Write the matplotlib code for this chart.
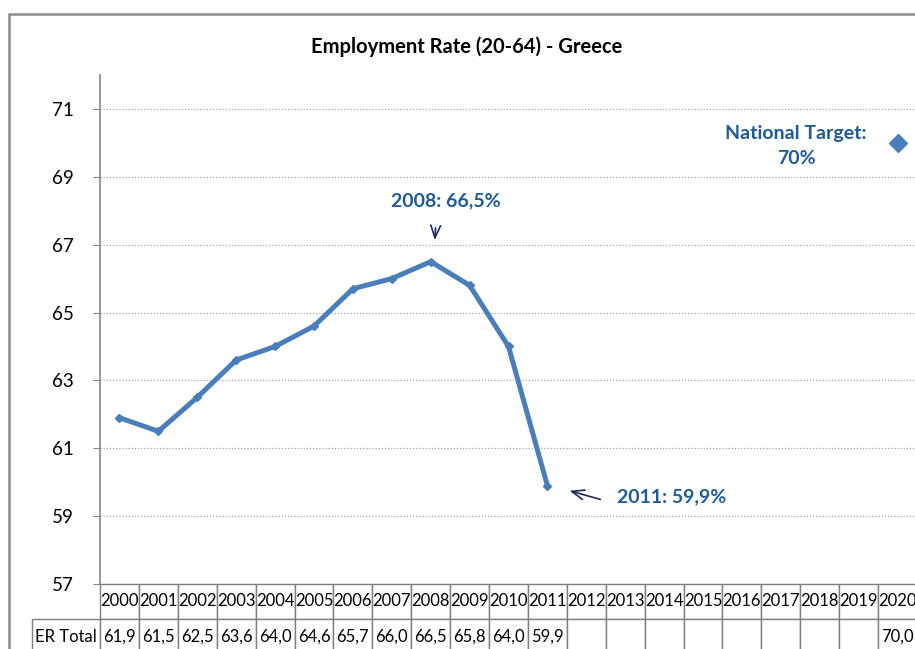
import matplotlib
matplotlib.use("Agg")
import matplotlib.pyplot as plt
import matplotlib.patches as patches
import numpy as np

plt.rcParams['font.family'] = ['Lato', 'DejaVu Sans']

# Employment rate 20-64, Greece
years = [str(y) for y in range(2000, 2021)]
er_years = years[:12]
er_total = [61.9, 61.5, 62.5, 63.6, 64.0, 64.6, 65.7, 66.0, 66.5, 65.8, 64.0, 59.9]
target_year = "2020"
target_value = 70.0
yticks = [57, 59, 61, 63, 65, 67, 69, 71]

line_col = '#4A7EBB'
note_col = '#1F5A96'
arrow_col = '#1F2A5C'

W, H = 915, 649
fig = plt.figure(figsize=(W / 100, H / 100), dpi=100)

# axes in pixel terms: x 100..917, y 75..584
ax_l, ax_r, ax_t, ax_b = 100, 917, 75, 584
ax = fig.add_axes([ax_l / W, 1 - ax_b / H, (ax_r - ax_l) / W, (ax_b - ax_t) / H])

x = np.arange(len(er_total))
ax.plot(x, er_total, color=line_col, lw=3.6, marker='D', ms=4.5, zorder=3)
ax.plot([years.index(target_year)], [target_value], color=line_col,
        marker='D', ms=9, ls='none', zorder=3)

ax.set_xlim(-0.5, len(years) - 0.5)
ax.set_ylim(57, 72)
ax.set_yticks(yticks)
ax.set_yticklabels([str(t) for t in yticks], fontsize=13.5)
ax.set_xticks([])
for t in yticks:
    ax.axhline(t, color='#A6A6A6', lw=0.9, ls=(0, (1, 1.5)), zorder=1)
for s in ['top', 'right', 'bottom']:
    ax.spines[s].set_visible(False)
ax.spines['left'].set_color('#868686')
ax.spines['left'].set_linewidth(1.2)
ax.tick_params(axis='y', length=5, color='#868686', pad=14)

# annotations
arrow_style = dict(arrowstyle='->,head_length=0.9,head_width=0.35', color=arrow_col, lw=1.2)
i08 = er_years.index("2008")
ax.annotate('', xy=(i08 + 0.1, er_total[i08] + 0.55), xytext=(i08 + 0.13, er_total[i08] + 1.08),
            arrowprops=arrow_style)
ax.text(i08 + 0.4, er_total[i08] + 1.8, "2008: 66,5%", color=note_col, fontsize=14,
        fontweight='bold', ha='center', va='center')

i11 = er_years.index("2011")
ax.annotate('', xy=(i11 + 0.5, er_total[i11] - 0.13), xytext=(i11 + 1.43, er_total[i11] - 0.43),
            arrowprops=arrow_style)
ax.text(i11 + 1.78, er_total[i11] - 0.34, "2011: 59,9%", color=note_col, fontsize=14,
        fontweight='bold', ha='left', va='center')

ax.text(17.39, target_value - 0.1, "National Target:\n70%", color=note_col, fontsize=14,
        fontweight='bold', ha='center', va='center', linespacing=1.6)

# data table under the axis
row_vals = [f"{v:.1f}".replace('.', ',') for v in er_total]
row_vals += [""] * (len(years) - len(er_total) - 1) + [f"{target_value:.1f}".replace('.', ',')]
cell_text = [[""] + years, ["ER Total"] + row_vals]
ax_w = ax_r - ax_l
ax_h = ax_b - ax_t
lab_w = 68
col_w = [lab_w / ax_w] + [1 / len(years)] * len(years)
tbl = ax.table(cellText=cell_text, colWidths=col_w, cellLoc='center',
               bbox=[-lab_w / ax_w, -70 / ax_h, 1 + lab_w / ax_w, 70 / ax_h])
tbl.auto_set_font_size(False)
tbl.set_fontsize(12)
for (r, c), cell in tbl.get_celld().items():
    cell.set_edgecolor('#7F7F7F')
    cell.set_linewidth(1.0)
    cell.PAD = 0.02
    if c == 0:
        cell.get_text().set_ha('center')
tbl[0, 0].visible_edges = ''

fig.text(467 / W, 1 - 47 / H, "Employment Rate (20-64) - Greece", fontsize=14.5,
         fontweight='bold', ha='center', va='center')

# outer chart border
fig.patches.append(patches.Rectangle((9 / W, -0.1), 1.2, 1 - 14 / H + 0.1, transform=fig.transFigure,
                                     fill=False, ec='#8C8C8C', lw=1.8))

fig.savefig('out.png', dpi=100)
